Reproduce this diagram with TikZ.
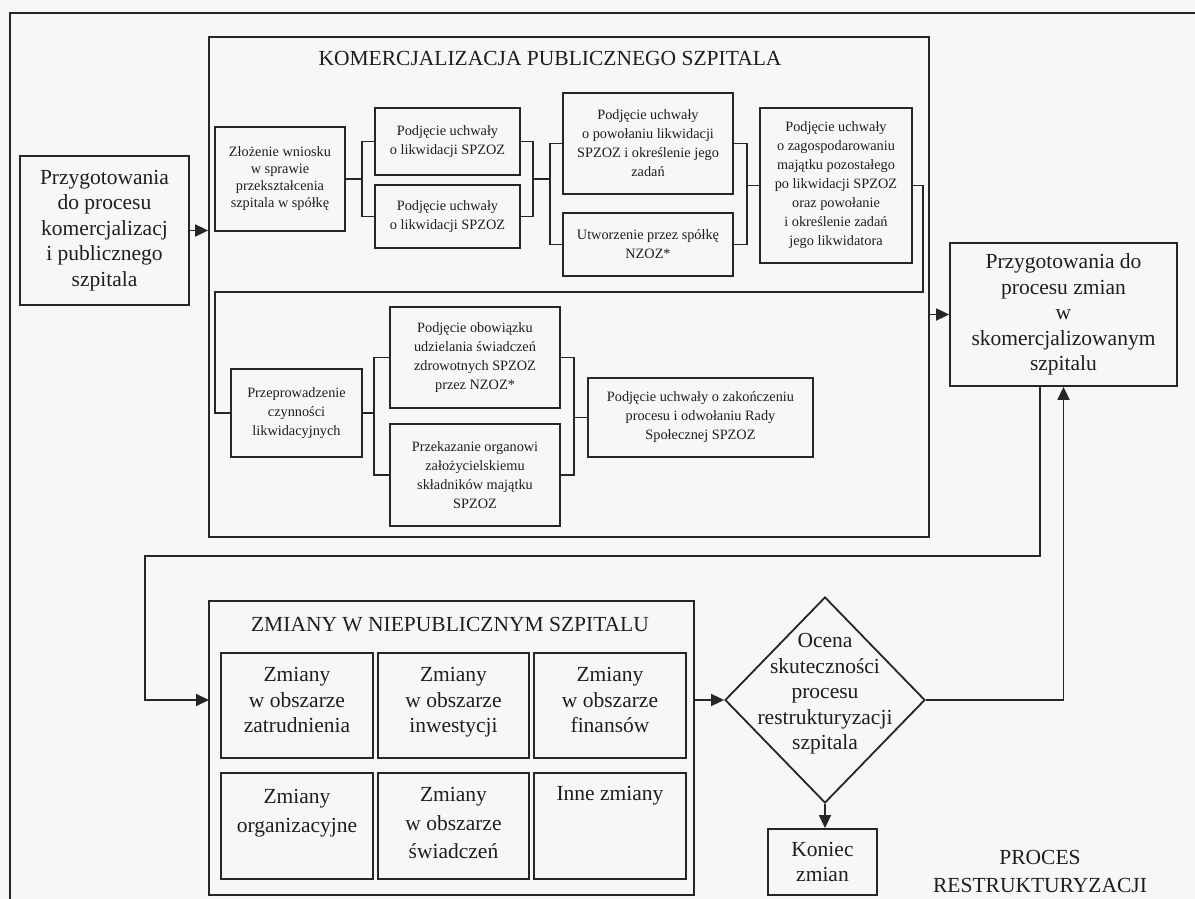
\documentclass[tikz,border=0pt]{standalone}
\usepackage{fontspec}
\setmainfont{Liberation Serif}
\usetikzlibrary{arrows.meta,shapes.geometric}
\definecolor{bgc}{HTML}{F7F7F7}
\definecolor{lnc}{HTML}{262626}
\definecolor{txc}{HTML}{1E1E1E}
\newcommand\fbig{\fontsize{21.5}{25.5}\selectfont}
\newcommand\fbigw{\fontsize{21.5}{28.5}\selectfont}
\newcommand\fsmall{\fontsize{14.3}{19}\selectfont}
\newcommand\fsmaller{\fontsize{14.3}{17}\selectfont}
\begin{document}
\begin{tikzpicture}[x=1pt,y=-1pt,
  box/.style={draw=lnc, line width=1.8pt, rectangle, inner sep=0pt, align=center, text=txc},
  sm/.style={box, font=\fsmall},
  bg/.style={box, font=\fbig},
  sz/.style 2 args={minimum width=#1pt, minimum height=#2pt},
  lnk/.style={draw=lnc, line width=1.8pt},
  arr/.style={lnk, -{Triangle[length=13pt,width=12pt]}},
  lbl/.style={inner sep=0pt, align=center, text=txc, font=\fbig}
]
\useasboundingbox (0,0) rectangle (1195,899);
\fill[bgc] (0,0) rectangle (1195,899);
% outer frame
\draw[lnk] (10,899) -- (10,13) -- (1195,13);

% left box
\node[bg, sz={169}{149}] (L1) at (104.5,230.5) {Przygotowania\\do procesu\\komercjalizacj\\i publicznego\\szpitala};

% container KOMERCJALIZACJA
\node[box, sz={720}{500}] (K) at (569,287) {};
\node[lbl] (KT) at (550,58) {KOMERCJALIZACJA PUBLICZNEGO SZPITALA};

\node[box, font=\fsmaller, sz={130}{104}] (Z1) at (280,179) {Złożenie wniosku\\w sprawie\\przekształcenia\\szpitala w spółkę};
\node[sm, sz={145}{67}] (P1) at (447.5,141.5) {Podjęcie uchwały\\o likwidacji SPZOZ};
\node[sm, sz={145}{63}] (P2) at (447.5,216.5) {Podjęcie uchwały\\o likwidacji SPZOZ};
\node[sm, sz={170}{101}] (Q1) at (648,143.5) {Podjęcie uchwały\\o powołaniu likwidacji\\SPZOZ i określenie jego\\zadań};
\node[sm, sz={170}{63}] (Q2) at (648,244.5) {Utworzenie przez spółkę\\NZOZ*};
\node[sm, sz={152}{155}] (R) at (836,185.5) {Podjęcie uchwały\\o zagospodarowaniu\\majątku pozostałego\\po likwidacji SPZOZ\\oraz powołanie\\i określenie zadań\\jego likwidatora};
\node[sm, sz={131}{88}] (Pr) at (296.5,413) {Przeprowadzenie\\czynności\\likwidacyjnych};
\node[sm, sz={170}{101}] (O1) at (475,357.5) {Podjęcie obowiązku\\udzielania świadczeń\\zdrowotnych SPZOZ\\przez NZOZ*};
\node[sm, sz={170}{102}] (O2) at (475,475) {Przekazanie organowi\\założycielskiemu\\składników majątku\\SPZOZ};
\node[sm, sz={225}{79}] (E) at (700.5,417.5) {Podjęcie uchwały o zakończeniu\\procesu i odwołaniu Rady\\Społecznej SPZOZ};

% junction coordinates
\coordinate (j1) at (362,0);
\coordinate (j2) at (533,0);
\coordinate (j2b) at (550,0);
\coordinate (j3) at (747,0);
\coordinate (j4) at (374,0);
\coordinate (j5) at (574,0);
\coordinate (s1) at (923,292);
\coordinate (s2) at (215,292);

\draw[lnk] (Z1.east) -- (j1 |- Z1.east);
\draw[lnk] (P1.west) -| (j1 |- P2.west) -- (P2.west);
\draw[lnk] (P1.east) -| (j2 |- P2.east) -- (P2.east);
\draw[lnk] (j2 |- Z1.east) -- (j2b |- Z1.east);
\draw[lnk] (Q1.west) -| (j2b |- Q2.west) -- (Q2.west);
\draw[lnk] (Q1.east) -| (j3 |- Q2.east) -- (Q2.east);
\draw[lnk] (j3 |- R.west) -- (R.west);
\draw[lnk] (R.east) -| (s1) -- (s2) |- (Pr.west);
\draw[lnk] (Pr.east) -- (j4 |- Pr.east);
\draw[lnk] (O1.west) -| (j4 |- O2.west) -- (O2.west);
\draw[lnk] (O1.east) -| (j5 |- O2.east) -- (O2.east);
\draw[lnk] (j5 |- E.west) -- (E.west);

\draw[arr] (L1.east) -- (L1.east -| K.west);

% right box
\node[bg, sz={227}{143}] (PZ) at (1063.5,314.5) {Przygotowania do\\procesu zmian\\w\\skomercjalizowanym\\szpitalu};
\draw[arr] (K.east |- PZ.west) -- (PZ.west);

% ZMIANY container
\node[box, sz={485}{294}] (ZM) at (451.5,748) {};
\node[lbl] (ZT) at (450,625) {ZMIANY W NIEPUBLICZNYM SZPITALU};
\node[box, sz={152}{105}] (G11) at (297,705.5) {};
\node[box, sz={151}{105}] (G12) at (453.5,705.5) {};
\node[box, sz={152}{105}] (G13) at (610,705.5) {};
\node[box, sz={152}{106}] (G21) at (297,826) {};
\node[box, sz={151}{106}] (G22) at (453.5,826) {};
\node[box, sz={152}{106}] (G23) at (610,826) {};
\node[lbl, anchor=north] at ([yshift=-15pt]G11.north) {Zmiany\\w obszarze\\zatrudnienia};
\node[lbl, anchor=north] at ([yshift=-15pt]G12.north) {Zmiany\\w obszarze\\inwestycji};
\node[lbl, anchor=north] at ([yshift=-15pt]G13.north) {Zmiany\\w obszarze\\finansów};
\node[lbl, font=\fbigw, anchor=north] at ([yshift=-17pt]G21.north) {Zmiany\\organizacyjne};
\node[lbl, font=\fbigw, anchor=north] at ([yshift=-15pt]G22.north) {Zmiany\\w obszarze\\świadczeń};
\node[lbl, anchor=north] at ([yshift=-14pt]G23.north) {Inne zmiany};

% loop
\coordinate (lp0) at (1040,386);
\coordinate (lp1) at (1040,556);
\coordinate (lp2) at (145,556);
\coordinate (zin) at (209,700);
\draw[arr] (lp0) -- (lp1) -- (lp2) |- (zin);

% decision
\node[diamond, draw=lnc, line width=1.8pt, inner sep=0pt, minimum width=200pt, minimum height=206pt] (D) at (825,700) {};
\node[lbl] at (825,694) {Ocena\\skuteczności\\procesu\\restrukturyzacji\\szpitala};
\draw[arr] (ZM.east |- D.west) -- (D.west);
\draw[arr] (D.east) -| (PZ.south);

\node[bg, sz={109}{66}] (KO) at (822.5,862) {Koniec\\zmian};
\draw[arr] (D.south) -- (D.south |- KO.north);

\node[lbl, font=\fontsize{21.5}{28}\selectfont] (PR) at (1040,871) {PROCES\\RESTRUKTURYZACJI};
\end{tikzpicture}
\end{document}
